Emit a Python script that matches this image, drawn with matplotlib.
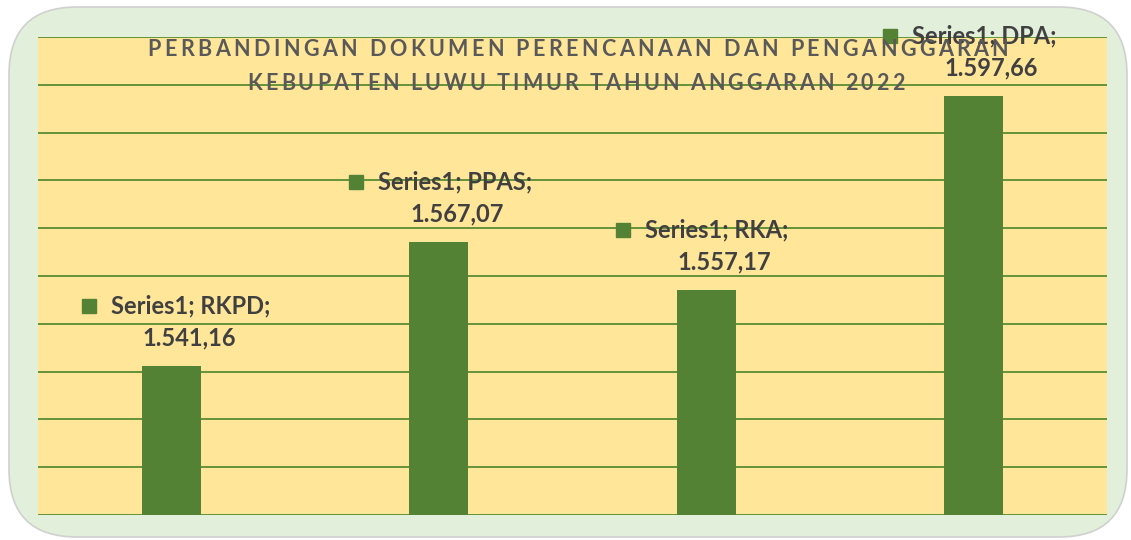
import matplotlib.pyplot as plt
from matplotlib.patches import FancyBboxPatch
from matplotlib.transforms import offset_copy

categories = ["RKPD", "PPAS", "RKA", "DPA"]
values = [1541.16, 1567.07, 1557.17, 1597.66]
value_labels = ["1.541,16", "1.567,07", "1.557,17", "1.597,66"]
series_name = "Series1"
title_lines = ["PERBANDINGAN DOKUMEN PERENCANAAN DAN PENGANGGARAN",
               "KEBUPATEN LUWU TIMUR TAHUN ANGGARAN 2022"]

bar_color = "#548235"
plot_bg = "#FFE699"
outer_bg = "#E2EFDA"
text_color = "#404040"

plt.rcParams["font.family"] = ["Lato", "DejaVu Sans"]

W, H = 1131, 540
fig = plt.figure(figsize=(11.31, 5.4), dpi=100)
fig.patch.set_facecolor("white")

# rounded outer chart area
frame = FancyBboxPatch((9 / W, 3 / H), 1118 / W, 530 / H,
                       boxstyle="round,pad=0,rounding_size=0.06",
                       transform=fig.transFigure, facecolor=outer_bg,
                       edgecolor="#D0D0D0", linewidth=1.2,
                       mutation_aspect=W / H, zorder=-5)
fig.patches.append(frame)

ax = fig.add_axes([38 / W, 25 / H, 1069 / W, 478 / H])
ax.set_facecolor(plot_bg)

x = list(range(len(categories)))
ax.bar(x, values, width=0.22, color=bar_color, zorder=3)
ax.set_xlim(-0.5, 3.5)
ax.set_ylim(1510, 1610)
ax.set_yticks(range(1510, 1611, 10))
ax.grid(axis="y", color="#5B8C32", linewidth=1.3, zorder=1)
ax.set_axisbelow(True)
ax.tick_params(left=False, bottom=False, labelleft=False, labelbottom=False)
for s in ax.spines.values():
    s.set_visible(False)

# data labels
for xi, v, cat, vl in zip(x, values, categories, value_labels):
    tr_mark = offset_copy(ax.transData, fig=fig, x=-83, y=60, units="dots")
    ax.plot([xi], [v], marker="s", ms=9.5, color=bar_color, transform=tr_mark,
            clip_on=False, zorder=6)
    tr_txt = offset_copy(ax.transData, fig=fig, x=-61, y=60, units="dots")
    ax.text(xi, v, f"{series_name}; {cat};", transform=tr_txt, ha="left",
            va="center", fontsize=17, fontweight="bold", color=text_color,
            clip_on=False, zorder=6)
    tr_val = offset_copy(ax.transData, fig=fig, x=18, y=28, units="dots")
    ax.text(xi, v, vl, transform=tr_val, ha="center", va="center",
            fontsize=17, fontweight="bold", color=text_color, zorder=6)


# title with letter spacing, drawn character by character
renderer = fig.canvas.get_renderer()


def spaced_text(s, xc, yc, track, **kw):
    widths = []
    for ch in s:
        t = fig.text(0, 0, ch if ch != " " else "n", **kw)
        w = t.get_window_extent(renderer).width
        if ch == " ":
            w *= 0.45
        widths.append(w)
        t.remove()
    total = sum(widths) + track * (len(s) - 1)
    xp = xc - total / 2
    for ch, w in zip(s, widths):
        if ch != " ":
            fig.text(xp / W, 1 - yc / H, ch, ha="left", va="center", **kw)
        xp += w + track


tkw = dict(fontsize=15.5, fontweight="bold", color="#595959", zorder=2)
spaced_text(title_lines[0], 578, 50, 3.4, **tkw)
spaced_text(title_lines[1], 576, 83, 3.0, **tkw)

fig.savefig("out.png", dpi=100)
